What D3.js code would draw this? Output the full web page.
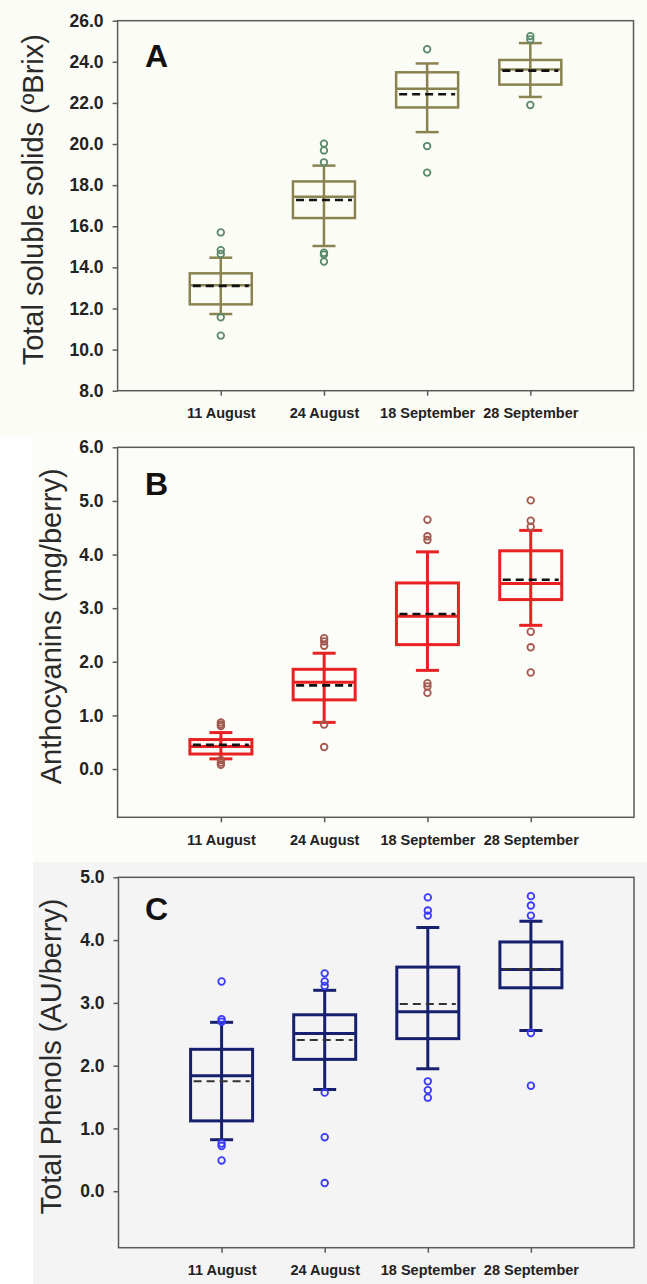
<!DOCTYPE html>
<html>
<head>
<meta charset="utf-8">
<script src="https://cdn.jsdelivr.net/npm/d3@7"></script>
<style>
  body { margin: 0; background: #fff; }
  svg text { font-family: Arial, "Liberation Sans", sans-serif; }
</style>
</head>
<body>
<svg id="chart" width="647" height="1284"></svg>
<script>
// sampling dates (x categories)
const dates = ['11 August', '24 August', '18 September', '28 September'];

// A - total soluble solids (ºBrix)
const tssLow    = [11.73, 15.04, 20.58, 22.29];
const tssQ1     = [12.20, 16.40, 21.78, 22.89];
const tssMedian = [13.13, 17.44, 22.69, 23.63];
const tssQ3     = [13.71, 18.18, 23.49, 24.09];
const tssHigh   = [14.47, 18.95, 23.92, 24.91];
const tssMean   = [13.10, 17.28, 22.42, 23.57];
const tssOut    = [[15.70, 14.84, 14.65, 11.57, 10.68],
                   [20.02, 19.69, 19.11, 14.71, 14.62, 14.28],
                   [24.61, 19.90, 18.61],
                   [25.25, 25.09, 21.90]];
const tssTicks  = [8, 10, 12, 14, 16, 18, 20, 22, 24, 26];

// B - anthocyanins (mg/berry)
const antLow    = [0.19, 0.87, 1.84, 2.68];
const antQ1     = [0.28, 1.29, 2.32, 3.16];
const antMedian = [0.42, 1.62, 2.85, 3.46];
const antQ3     = [0.55, 1.86, 3.47, 4.07];
const antHigh   = [0.68, 2.16, 4.05, 4.45];
const antMean   = [0.45, 1.56, 2.89, 3.53];
const antOut    = [[0.87, 0.83, 0.80, 0.17, 0.12, 0.08],
                   [2.44, 2.38, 2.30, 0.83, 0.41],
                   [4.65, 4.34, 4.27, 1.60, 1.54, 1.42],
                   [5.01, 4.63, 4.52, 2.56, 2.27, 1.80]];
const antTicks  = [0, 1, 2, 3, 4, 5, 6];

// C - total phenols (AU/berry)
const phenLow    = [0.82, 1.62, 1.95, 2.56];
const phenQ1     = [1.12, 2.10, 2.43, 3.24];
const phenMedian = [1.84, 2.51, 2.86, 3.53];
const phenQ3     = [2.26, 2.81, 3.57, 3.97];
const phenHigh   = [2.69, 3.20, 4.20, 4.30];
const phenMean   = [1.75, 2.41, 2.98, 3.54];
const phenOut    = [[3.34, 2.74, 2.70, 0.76, 0.72, 0.49],
                    [3.47, 3.34, 3.27, 1.57, 0.86, 0.13],
                    [4.68, 4.47, 4.39, 1.75, 1.61, 1.49],
                    [4.70, 4.55, 4.39, 2.52, 1.68]];
const phenTicks  = [0, 1, 2, 3, 4, 5];

const svg = d3.select('#chart');

// panel backgrounds
svg.append('rect').attr('x', 0).attr('y', 0).attr('width', 647).attr('height', 437).attr('fill', '#fcfcf7');
svg.append('rect').attr('x', 33).attr('y', 437).attr('width', 614).attr('height', 425).attr('fill', '#fcfcf8');
svg.append('rect').attr('x', 33).attr('y', 862).attr('width', 614).attr('height', 422).attr('fill', '#f4f4f4');

const panels = [
  {letter: 'A', label: 'Total soluble solids (ºBrix)', low: tssLow, q1: tssQ1, med: tssMedian, q3: tssQ3, high: tssHigh, mean: tssMean, out: tssOut, ticks: tssTicks,
   domain: [8, 26], left: 117.6, right: 633.5, top: 20.7, bottom: 390.7, labelX: 43, letterY: 67,
   color: '#8a8350', outColor: '#5b8a6c', width: 2.5, meanColor: '#111', meanWidth: 2.6},
  {letter: 'B', label: 'Anthocyanins (mg/berry)', low: antLow, q1: antQ1, med: antMedian, q3: antQ3, high: antHigh, mean: antMean, out: antOut, ticks: antTicks,
   domain: [-0.9, 6], left: 117.6, right: 634, top: 447.3, bottom: 817.3, labelX: 61, letterY: 495,
   color: '#e82222', outColor: '#a2594f', width: 3, meanColor: '#111', meanWidth: 2.6},
  {letter: 'C', label: 'Total Phenols (AU/berry)', low: phenLow, q1: phenQ1, med: phenMedian, q3: phenQ3, high: phenHigh, mean: phenMean, out: phenOut, ticks: phenTicks,
   domain: [-0.9, 5], left: 118.5, right: 634, top: 877.3, bottom: 1247.7, labelX: 61, letterY: 920,
   color: '#16206e', outColor: '#3b3bff', width: 3, meanColor: '#333', meanWidth: 2}
];

const boxW = 62, capW = 23;

panels.forEach(p => {
  const x = d3.scalePoint().domain(dates).range([p.left, p.right]).padding(1);
  const y = d3.scaleLinear().domain(p.domain).range([p.bottom, p.top]);
  const g = svg.append('g');

  // frame
  g.append('rect')
    .attr('x', p.left).attr('y', p.top)
    .attr('width', p.right - p.left).attr('height', p.bottom - p.top)
    .attr('fill', 'none').attr('stroke', '#5a5a5a').attr('stroke-width', 1.5);

  const yAxis = d3.axisLeft(y).tickValues(p.ticks).tickFormat(d3.format('.1f')).tickSize(5).tickPadding(9).tickSizeOuter(0);
  const gy = g.append('g').attr('transform', `translate(${p.left},0)`).call(yAxis);
  gy.select('.domain').remove();
  gy.selectAll('.tick line').attr('stroke', '#5a5a5a').attr('stroke-width', 1.5);
  gy.selectAll('.tick text').attr('fill', '#222').style('font-size', '17.5px').style('font-weight', 'bold')
    .style('font-family', 'Arial, "Liberation Sans", sans-serif');

  const xAxis = d3.axisBottom(x).tickSize(5).tickPadding(12).tickSizeOuter(0);
  const gx = g.append('g').attr('transform', `translate(0,${p.bottom})`).call(xAxis);
  gx.select('.domain').remove();
  gx.selectAll('.tick line').attr('stroke', '#5a5a5a').attr('stroke-width', 1.5);
  gx.selectAll('.tick text').attr('fill', '#222').style('font-size', '14.5px').style('font-weight', 'bold')
    .style('font-family', 'Arial, "Liberation Sans", sans-serif');

  // y label
  g.append('text')
    .attr('transform', `translate(${p.labelX},${(p.top + p.bottom) / 2 - 6}) rotate(-90)`)
    .attr('text-anchor', 'middle')
    .style('font-size', '29px').attr('fill', '#2a2a2a')
    .text(p.label);

  // panel letter
  g.append('text')
    .attr('x', 145).attr('y', p.letterY)
    .style('font-size', '32px').style('font-weight', 'bold').attr('fill', '#111')
    .text(p.letter);

  const idx = d3.range(dates.length);
  const box = g.append('g').attr('stroke', p.color).attr('stroke-width', p.width).attr('fill', 'none');

  // whiskers
  box.selectAll('.whisk').data(idx).join('line')
    .attr('x1', i => x(dates[i])).attr('x2', i => x(dates[i]))
    .attr('y1', i => y(p.low[i])).attr('y2', i => y(p.high[i]));
  box.selectAll('.capHi').data(idx).join('line')
    .attr('x1', i => x(dates[i]) - capW / 2).attr('x2', i => x(dates[i]) + capW / 2)
    .attr('y1', i => y(p.high[i])).attr('y2', i => y(p.high[i]));
  box.selectAll('.capLo').data(idx).join('line')
    .attr('x1', i => x(dates[i]) - capW / 2).attr('x2', i => x(dates[i]) + capW / 2)
    .attr('y1', i => y(p.low[i])).attr('y2', i => y(p.low[i]));

  // boxes
  box.selectAll('rect').data(idx).join('rect')
    .attr('x', i => x(dates[i]) - boxW / 2).attr('width', boxW)
    .attr('y', i => y(p.q3[i])).attr('height', i => y(p.q1[i]) - y(p.q3[i]))
    .attr('fill', 'none');

  // median
  box.selectAll('.med').data(idx).join('line')
    .attr('x1', i => x(dates[i]) - boxW / 2).attr('x2', i => x(dates[i]) + boxW / 2)
    .attr('y1', i => y(p.med[i])).attr('y2', i => y(p.med[i]));

  // mean (dashed)
  g.selectAll('.mean').data(idx).join('line')
    .attr('x1', i => x(dates[i]) - boxW / 2 + 3).attr('x2', i => x(dates[i]) + boxW / 2 - 3)
    .attr('y1', i => y(p.mean[i])).attr('y2', i => y(p.mean[i]))
    .attr('stroke', p.meanColor).attr('stroke-width', p.meanWidth).attr('stroke-dasharray', '8,5');

  // outliers
  const pts = [];
  p.out.forEach((arr, i) => arr.forEach(v => pts.push({d: dates[i], v: v})));
  g.selectAll('circle').data(pts).join('circle')
    .attr('cx', d => x(d.d)).attr('cy', d => y(d.v)).attr('r', 3.3)
    .attr('fill', 'none').attr('stroke', p.outColor).attr('stroke-width', 1.8);
});
</script>
</body>
</html>
